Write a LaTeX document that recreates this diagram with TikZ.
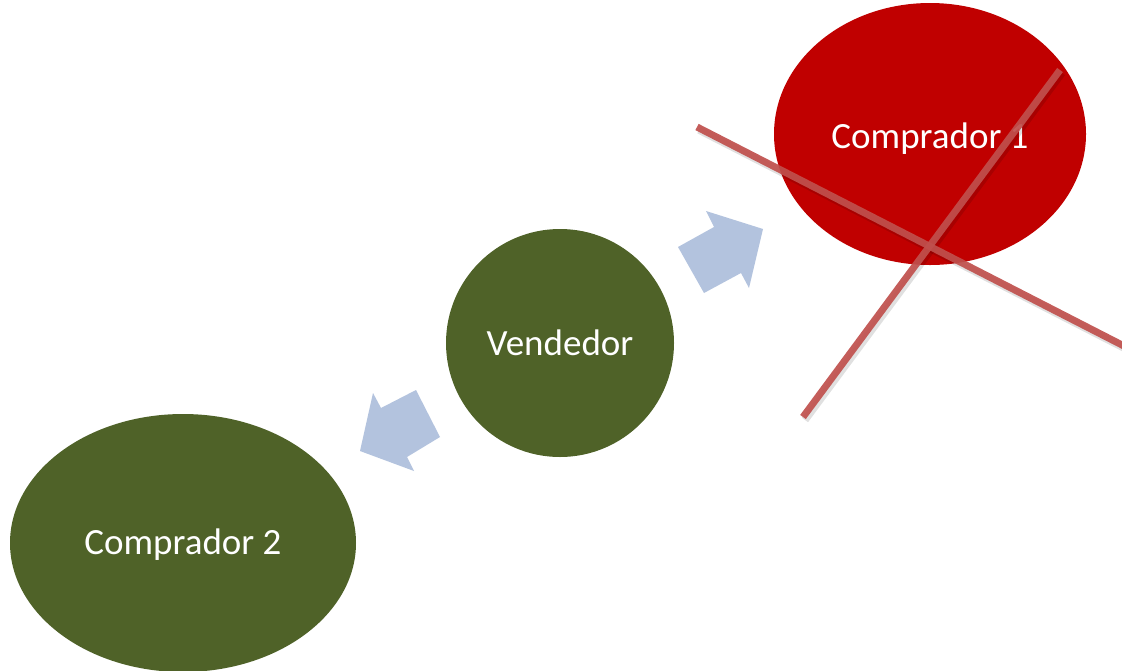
\documentclass[tikz,border=0pt]{standalone}
\usepackage{fontspec}
\setmainfont{Carlito}
\definecolor{cred}{HTML}{C00000}
\definecolor{cgreen}{HTML}{4F6228}
\definecolor{carrow}{HTML}{B3C3DE}
\definecolor{ccross}{HTML}{C0504D}
\tikzset{
  bubble/.style={ellipse, inner sep=0pt, text=white, font=\fontsize{37}{44}\selectfont},
  fatarrow/.style={fill=carrow, draw=none},
  crossline/.style={draw=ccross, line width=7pt, opacity=0.92},
  crossshadow/.style={draw=black, line width=7.5pt, opacity=0.12}
}
\usetikzlibrary{shapes.geometric}
\begin{document}
\begin{tikzpicture}[x=1pt,y=-1pt]
\useasboundingbox (0,0) rectangle (1122,670);
\fill[white] (0,0) rectangle (1122,670);
\begin{scope}
\clip (0,0) rectangle (1122,670);
\node[bubble, fill=cred, minimum width=312pt, minimum height=262pt] (c1) at (930,134) {};
\node[bubble, fill=cgreen, minimum width=228pt, minimum height=228pt] (v) at (560,343) {Vendedor};
\node[bubble, fill=cgreen, minimum width=346pt, minimum height=258pt] (c2) at (183,543) {};
\node[text=white, font=\fontsize{37}{44}\selectfont] (c2t) at ([yshift=-2pt]c2.center) {Comprador 2};
\node[text=white, font=\fontsize{37}{44}\selectfont] (c1t) at ([yshift=-5pt]c1.center) {Comprador 1};
\end{scope}
% block arrows
\fill[fatarrow] (678,247) -- (704,293) -- (741,273) -- (749,288) -- (763,229) -- (706,211) -- (714,227) -- cycle;
\fill[fatarrow] (416,390) -- (440,437) -- (407,457) -- (414,471) -- (360,451) -- (373,393) -- (381,408) -- cycle;
% cross
\begin{scope}
\clip (0,0) rectangle (1122,670);
\coordinate (a1) at (697,127);
\coordinate (a2) at (1124,346);
\coordinate (b1) at (1060,70);
\coordinate (b2) at (803,417);
\draw[crossshadow] ([shift={(2,3)}]a1) -- ([shift={(2,3)}]a2);
\draw[crossshadow] ([shift={(2,3)}]b1) -- ([shift={(2,3)}]b2);
\draw[crossline] (a1) -- (a2);
\draw[crossline] (b1) -- (b2);
\end{scope}
\end{tikzpicture}
\end{document}
